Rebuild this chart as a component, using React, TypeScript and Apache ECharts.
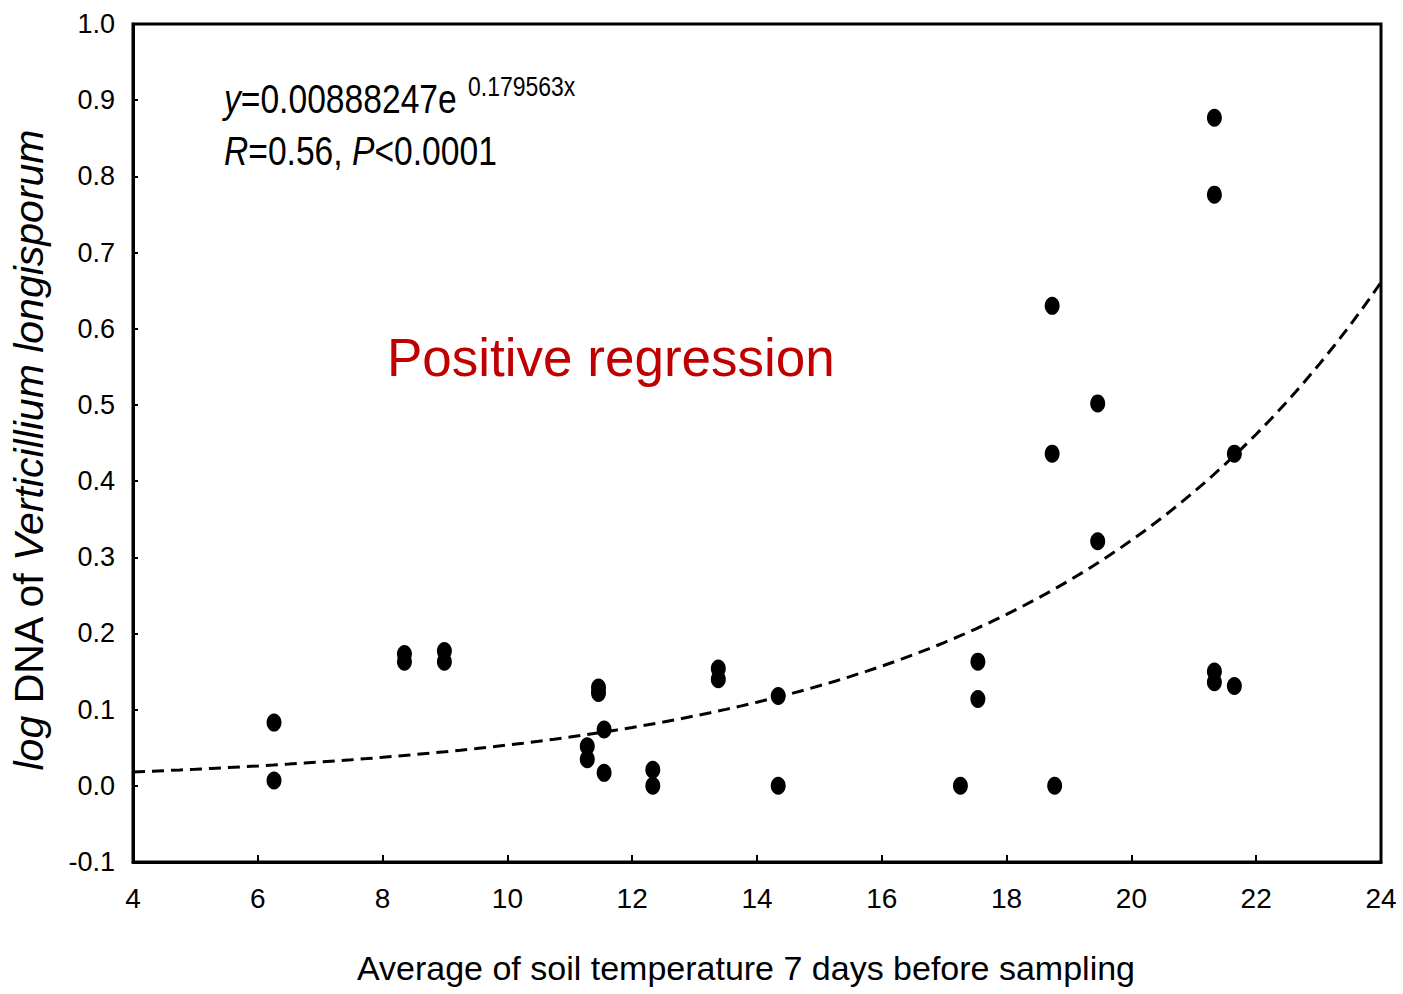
import React, { useEffect, useRef } from "react";
import * as echarts from "echarts";

// Observed samples
const soilTemp = [6.26, 6.26, 8.35, 8.35, 8.99, 8.99, 11.28, 11.28, 11.46, 11.46, 11.55, 11.55, 12.33, 12.33, 13.38, 13.38, 14.34, 14.34, 17.26, 17.54, 17.54, 18.73, 18.73, 18.77, 19.46, 19.46, 21.33, 21.33, 21.33, 21.33, 21.65, 21.65];
const logDna = [0.083, 0.007, 0.173, 0.163, 0.177, 0.163, 0.052, 0.035, 0.129, 0.122, 0.074, 0.017, 0.021, 0.0, 0.154, 0.140, 0.118, 0.0, 0.0, 0.163, 0.114, 0.630, 0.436, 0.0, 0.502, 0.321, 0.877, 0.776, 0.150, 0.136, 0.436, 0.131];

// Regression shown on the chart: y = A * e^(B x)
const fitA = 0.00888247;
const fitB = 0.179563;
const fitRange = [4, 24];
const fitSteps = 80;

const xTicks = { min: 4, max: 24, interval: 2 };
const yTicks = { min: -0.1, max: 1.0, interval: 0.1 };

const SANS = '"Liberation Sans", Arial, sans-serif';
const SQUEEZE = 0.82;

export default function App() {
  const ref = useRef<HTMLDivElement>(null);
  useEffect(() => {
    if (!ref.current) return;
    const chart = echarts.init(ref.current, null, { renderer: "svg" });
    const fitLine: number[][] = [];
    for (let i = 0; i <= fitSteps; i++) {
      const x = fitRange[0] + ((fitRange[1] - fitRange[0]) * i) / fitSteps;
      fitLine.push([x, fitA * Math.exp(fitB * x)]);
    }
    chart.setOption({
      animation: false,
      backgroundColor: "#fff",
      grid: {
        left: 131,
        right: 22,
        top: 24,
        bottom: 132,
        show: true,
        borderColor: "#000",
        borderWidth: 3,
        backgroundColor: "transparent",
      },
      xAxis: {
        type: "value",
        min: xTicks.min,
        max: xTicks.max,
        interval: xTicks.interval,
        name: "Average of soil temperature 7 days before sampling",
        nameLocation: "middle",
        nameGap: 89,
        nameTextStyle: { fontFamily: SANS, fontSize: 34, color: "#000", padding: [0, 22, 0, 0] },
        axisLine: { show: true, onZero: false, lineStyle: { color: "#000", width: 3 } },
        axisTick: { show: true, inside: true, length: 7, lineStyle: { color: "#000", width: 2 } },
        axisLabel: { fontFamily: SANS, fontSize: 28, color: "#000", margin: 22 },
        splitLine: { show: false },
      },
      yAxis: {
        type: "value",
        min: yTicks.min,
        max: yTicks.max,
        interval: yTicks.interval,
        name: "{i|log} DNA of {i|Verticillium longisporum}",
        nameLocation: "middle",
        nameGap: 84,
        nameTextStyle: {
          fontFamily: SANS,
          fontSize: 41,
          color: "#000",
          padding: [0, 14, 0, 0],
          rich: {
            i: { fontFamily: SANS, fontSize: 41, fontStyle: "italic", color: "#000" },
          },
        },
        axisLine: { show: true, onZero: false, lineStyle: { color: "#000", width: 3 } },
        axisTick: { show: true, inside: true, length: 5, lineStyle: { color: "#000", width: 2 } },
        axisLabel: {
          fontFamily: SANS,
          fontSize: 27,
          color: "#000",
          margin: 18,
          formatter: (v: number) => v.toFixed(1),
        },
        splitLine: { show: false },
      },
      series: [
        {
          type: "line",
          data: fitLine,
          showSymbol: false,
          symbol: "none",
          smooth: false,
          lineStyle: { color: "#000", width: 3, type: [12, 7] },
          z: 2,
        },
        {
          type: "scatter",
          data: soilTemp.map((x, i) => [x, logDna[i]]),
          symbol: "circle",
          symbolSize: [15, 18],
          itemStyle: { color: "#000", opacity: 1 },
          z: 3,
        },
      ],
      graphic: [
        {
          type: "text",
          x: 224,
          y: 99,
          scaleX: SQUEEZE,
          style: {
            text: "{i|y}=0.00888247e",
            fontFamily: SANS,
            fontSize: 41,
            fill: "#000",
            verticalAlign: "middle",
            rich: { i: { fontFamily: SANS, fontSize: 41, fontStyle: "italic", fill: "#000" } },
          },
        },
        {
          type: "text",
          x: 468,
          y: 86,
          scaleX: SQUEEZE,
          style: { text: "0.179563x", fontFamily: SANS, fontSize: 28, fill: "#000", verticalAlign: "middle" },
        },
        {
          type: "text",
          x: 224,
          y: 151,
          scaleX: SQUEEZE,
          style: {
            text: "{i|R}=0.56, {i|P}<0.0001",
            fontFamily: SANS,
            fontSize: 41,
            fill: "#000",
            verticalAlign: "middle",
            rich: { i: { fontFamily: SANS, fontSize: 41, fontStyle: "italic", fill: "#000" } },
          },
        },
        {
          type: "text",
          x: 387,
          y: 357,
          style: { text: "Positive regression", fontFamily: SANS, fontSize: 53, fill: "#c00000", verticalAlign: "middle" },
        },
      ],
    });
    return () => chart.dispose();
  }, []);
  return (
    <div
      ref={ref}
      style={{ position: "fixed", left: 0, top: 0, width: 1403, height: 994, background: "#fff" }}
    />
  );
}
